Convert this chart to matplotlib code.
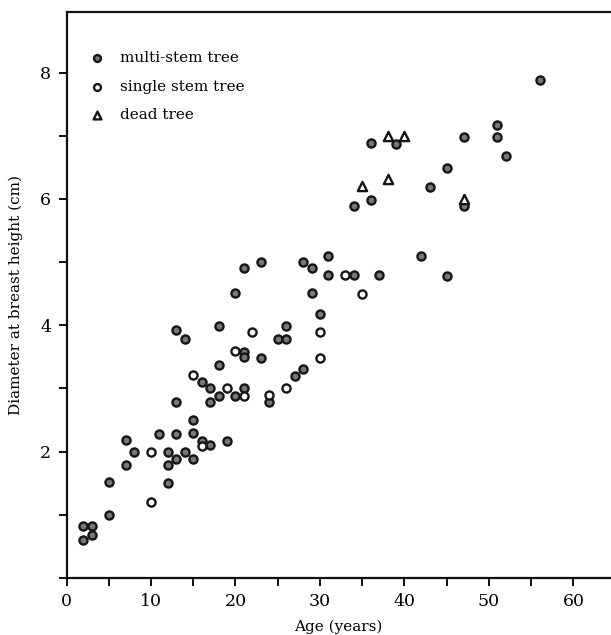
import matplotlib
matplotlib.use("Agg")
import matplotlib.pyplot as plt
from matplotlib.ticker import MultipleLocator

plt.rcParams['font.family'] = ['DejaVu Serif', 'Liberation Serif']

# Age (years) and diameter at breast height (cm)
multi_age = [2, 2, 3, 3, 5, 5, 12,
             7, 12, 7, 8, 12, 14, 13, 15,
             11, 13, 15, 16, 17, 19, 15,
             13, 17, 18, 20, 21, 17, 16, 18, 24,
             21, 21, 23, 27, 28,
             13, 14, 18, 26, 25, 26,
             20, 21, 23, 28, 29, 31, 29, 30, 31, 34, 37, 42, 45,
             34, 36, 43, 47, 45, 36, 39, 47, 51, 51, 52, 56]
multi_dbh = [0.60, 0.82, 0.82, 0.68, 1.00, 1.52, 1.50,
             1.79, 1.79, 2.18, 1.99, 1.99, 1.99, 1.89, 1.89,
             2.28, 2.28, 2.29, 2.17, 2.10, 2.17, 2.50,
             2.78, 2.78, 2.88, 2.88, 3.00, 3.01, 3.11, 3.37, 2.79,
             3.58, 3.50, 3.48, 3.20, 3.31,
             3.92, 3.79, 3.99, 3.99, 3.79, 3.79,
             4.51, 4.90, 5.00, 5.00, 4.90, 5.10, 4.51, 4.18, 4.79, 4.80, 4.80, 5.10, 4.78,
             5.89, 5.99, 6.19, 5.89, 6.49, 6.88, 6.87, 6.98, 6.98, 7.17, 6.68, 7.88]

single_age = [10, 10, 16, 15, 19, 21, 20, 22, 24, 26, 30, 30, 33, 35]
single_dbh = [1.20, 1.99, 2.09, 3.22, 3.00, 2.88, 3.59, 3.90, 2.89, 3.00, 3.49, 3.90, 4.79, 4.50]

dead_age = [35, 38, 38, 40, 47]
dead_dbh = [6.21, 6.32, 7.00, 7.00, 6.00]

x_ticks = [0, 10, 20, 30, 40, 50, 60]
y_ticks = [2, 4, 6, 8]

W, H = 611, 635
fig = plt.figure(figsize=(W / 100, H / 100), dpi=100)
ax = fig.add_axes([66.5 / W, 57 / H, (W - 66.5) / W, 566 / H])

ax.scatter(multi_age, multi_dbh, s=34, marker='o', facecolor='#777777',
           edgecolor='#151515', linewidth=1.7, zorder=3, label='multi-stem tree')
ax.scatter(single_age, single_dbh, s=34, marker='o', facecolor='white',
           edgecolor='#151515', linewidth=1.7, zorder=3, label='single stem tree')
ax.scatter(dead_age, dead_dbh, s=44, marker='^', facecolor='white',
           edgecolor='#151515', linewidth=1.7, zorder=3, label='dead tree')

ax.set_xlim(0, 64.44)
ax.set_ylim(0, 8.96)
ax.set_xticks(x_ticks)
ax.set_yticks(y_ticks)
ax.xaxis.set_minor_locator(MultipleLocator(5))
ax.yaxis.set_minor_locator(MultipleLocator(1))
ax.tick_params(which='both', direction='out', length=6, width=1.4, color='#111111')
ax.tick_params(axis='both', labelsize=12.5, pad=5)

for side in ('left', 'bottom', 'top'):
    ax.spines[side].set_linewidth(1.6)
    ax.spines[side].set_color('#111111')
ax.spines['right'].set_visible(False)

ax.set_xlabel('Age (years)', fontsize=11, labelpad=7)
ax.set_ylabel('Diameter at breast height (cm)', fontsize=11, labelpad=12)

ax.legend(loc='upper left', bbox_to_anchor=(0.042, 0.931), frameon=False,
          borderpad=0, borderaxespad=0, handlelength=1.0, handletextpad=1.0,
          labelspacing=0.95, fontsize=11, scatterpoints=1, markerscale=0.85)

fig.savefig('out.png', dpi=100)
